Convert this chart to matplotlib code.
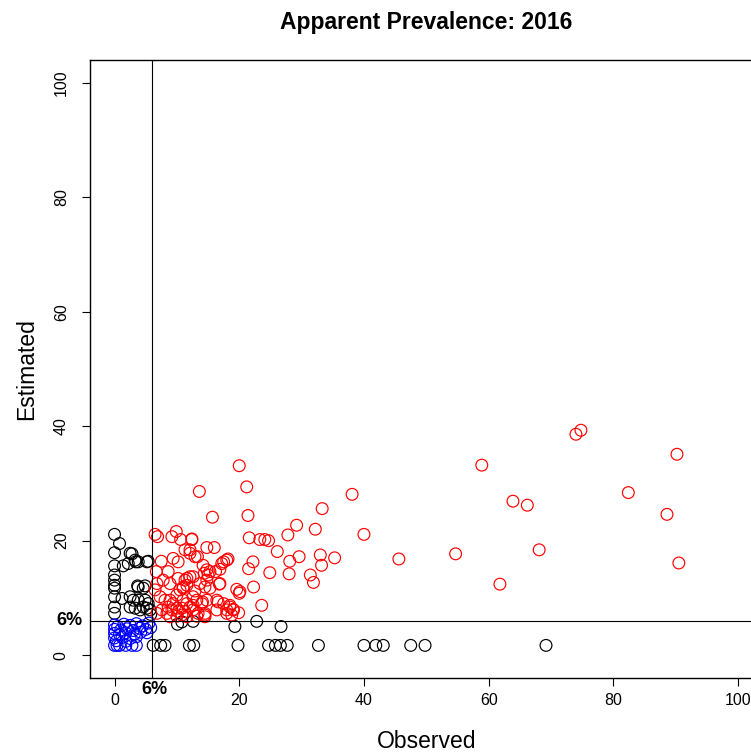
import matplotlib
matplotlib.use('Agg')
import matplotlib.pyplot as plt
import numpy as np

plt.rcParams['font.family'] = ['Liberation Sans', 'DejaVu Sans']

# Prevalence cut-off (%)
cutoff = 6

# Both observed and estimated above the cut-off
obs_red = [58.9, 74.0, 74.8, 90.2, 82.4, 63.9, 66.2, 88.6, 45.6, 54.7, 68.1, 90.5, 61.8,
           20.0, 21.2, 13.6, 38.1, 33.3, 15.7, 21.4, 29.2, 32.2, 40.0, 27.8, 21.6,
           23.3, 24.1, 24.7, 12.4, 14.8, 16.0, 26.1, 12.1, 12.9, 29.6, 33.0, 35.3,
           28.1, 18.2, 17.5, 22.2, 33.2, 14.2, 21.5, 16.2, 16.9, 24.9, 28.0, 14.4,
           15.0, 31.4, 31.9, 11.6, 12.1, 16.8, 13.7, 22.3, 19.6, 20.0, 11.0, 10.5,
           12.9, 16.6, 14.1, 18.5, 19.0, 19.9, 18.0, 23.6, 14.5, 12.6,
           6.5, 6.9, 9.9, 9.2, 10.6, 12.4, 12.1, 11.3, 13.3, 7.5, 9.4, 10.2,
           14.8, 15.3, 17.2, 18.0, 6.7, 8.6, 7.8, 8.9, 10.2, 11.3, 11.6, 11.0,
           10.0, 12.6, 14.8, 14.5, 15.3, 16.9, 20.1, 6.8, 6.5, 7.3, 8.1, 8.9,
           9.4, 8.6, 9.2, 10.0, 8.4, 11.0, 11.6, 12.1, 12.6, 13.2, 14.0, 14.8,
           10.8, 10.2, 11.3, 10.8, 12.6, 13.4, 14.5, 16.4, 17.5, 18.5, 19.1,
           16.4, 18.0, 18.8, 7.6, 6.8, 8.9, 10.0, 11.6, 13.2, 14.5]
est_red = [33.2, 38.6, 39.3, 35.1, 28.4, 26.9, 26.2, 24.6, 16.8, 17.7, 18.4, 16.1, 12.4,
           33.1, 29.4, 28.6, 28.1, 25.6, 24.1, 24.4, 22.7, 22.0, 21.1, 21.0, 20.5,
           20.2, 20.2, 20.0, 20.3, 18.8, 18.8, 18.1, 17.8, 17.2, 17.2, 17.5, 17.0,
           16.4, 16.8, 16.3, 16.3, 15.7, 15.7, 15.1, 14.6, 15.0, 14.4, 14.2, 14.3,
           14.0, 14.0, 12.7, 13.4, 13.7, 12.4, 12.5, 11.9, 11.5, 10.8, 11.9, 11.4,
           11.2, 9.3, 9.3, 8.7, 8.0, 7.4, 7.9, 8.7, 7.3, 8.7,
           21.1, 20.7, 21.6, 20.7, 20.2, 20.2, 18.4, 18.4, 17.2, 16.4, 16.9, 16.3,
           14.9, 14.6, 16.0, 16.6, 14.6, 14.6, 13.1, 12.5, 13.4, 13.1, 12.2, 11.7,
           10.5, 13.7, 13.1, 11.9, 11.7, 12.5, 11.1, 12.5, 11.4, 10.2, 9.6, 9.6,
           9.0, 8.4, 7.9, 8.2, 7.3, 9.6, 9.0, 8.4, 10.2, 9.6, 9.0, 9.6,
           8.2, 7.6, 7.6, 7.0, 7.9, 7.3, 7.0, 9.6, 9.0, 8.4, 7.9,
           7.9, 7.3, 7.0, 7.9, 7.3, 6.7, 6.8, 6.7, 6.8, 6.7]

# Only one of the two above the cut-off
obs_black = [0.0, 0.8, 0.0, 2.8, 3.4, 5.4, 0.0, 1.4, 0.0, 0.0, 3.7, 4.9, 0.0, 1.2,
             2.5, 3.0, 3.8, 4.9, 5.4, 2.5, 3.3, 4.1, 0.0, 4.6, 5.2, 5.7, 0.0, 5.8,
             2.5, 3.3, 2.2, 3.8, 5.2, 3.8, 4.6, 0.0, 0.0,
             10.1, 19.3, 22.8, 12.6, 10.8, 26.7,
             6.2, 7.4, 8.1, 12.0, 12.7, 19.8, 24.7, 25.8, 26.6, 27.7, 32.7,
             40.0, 41.9, 43.1, 47.5, 49.8, 69.2]
est_black = [21.1, 19.5, 17.9, 17.7, 16.3, 16.4, 15.6, 15.6, 14.0, 12.2, 12.1, 12.1,
             10.2, 9.9, 10.2, 9.6, 9.6, 9.6, 9.0, 8.4, 8.2, 7.9, 8.4, 8.4, 8.2, 7.9,
             7.3, 7.1, 17.8, 16.6, 16.0, 16.3, 16.3, 11.9, 11.7, 11.7, 13.1,
             5.4, 5.0, 5.9, 5.9, 5.8, 5.0,
             1.7, 1.7, 1.7, 1.7, 1.7, 1.7, 1.7, 1.7, 1.7, 1.7, 1.7,
             1.7, 1.7, 1.7, 1.7, 1.7, 1.7]

# Both below the cut-off
obs_blue = [0.0, 0.5, 1.5, 2.5, 3.5, 4.5, 5.5,
            0.0, 1.0, 2.0, 3.0, 4.0, 5.0, 5.8,
            0.0, 0.8, 1.8, 3.2, 4.2, 5.2,
            0.0, 1.2, 2.5, 3.5, 0.3, 1.8,
            0.0, 0.8, 1.8, 2.8, 3.5, 0.4]
est_blue = [5.3, 5.0, 5.4, 5.2, 5.5, 5.1, 5.6,
            4.5, 4.4, 4.6, 4.3, 4.7, 4.5, 4.8,
            3.8, 3.6, 3.9, 3.7, 4.0, 3.9,
            3.0, 3.1, 2.9, 3.2, 2.5, 2.4,
            1.7, 1.7, 1.7, 1.7, 1.7, 1.7]

fig = plt.figure(figsize=(7.51, 7.54), dpi=100)
# plot region runs past the right edge of the canvas
ax = fig.add_axes([0.1193, 0.1008, 0.8967, 0.8196])

marker_kw = dict(s=72, facecolors='none', linewidths=0.85)
ax.scatter(obs_black, est_black, edgecolors='black', **marker_kw)
ax.scatter(obs_red, est_red, edgecolors='#ff0000', **marker_kw)
ax.scatter(obs_blue, est_blue, edgecolors='#0000ff', **marker_kw)

ax.axvline(cutoff, color='black', linewidth=0.8)
ax.axhline(cutoff, color='black', linewidth=0.8)

ax.set_xlim(-4, 104)
ax.set_ylim(-4, 104)
ticks = [0, 20, 40, 60, 80, 100]
ax.set_xticks(ticks)
ax.set_yticks(ticks)
ax.tick_params(axis='both', length=6, width=0.8, labelsize=11.5)
ax.tick_params(axis='x', pad=5)
ax.tick_params(axis='y', pad=9)
for lbl in ax.get_yticklabels():
    lbl.set_rotation(90)
    lbl.set_va('center')
for sp in ax.spines.values():
    sp.set_linewidth(1.0)

ax.annotate('6%', xy=(0, cutoff), xycoords=('axes fraction', 'data'),
            xytext=(-14.5, 0), textcoords='offset points', ha='center', va='center',
            fontsize=13, fontweight='bold', annotation_clip=False)
ax.annotate('6%', xy=(cutoff, 0), xycoords=('data', 'axes fraction'),
            xytext=(2, -8.5), textcoords='offset points', ha='center', va='center',
            fontsize=13, fontweight='bold', annotation_clip=False)

ax.set_title('Apparent Prevalence: 2016', fontsize=16.5, fontweight='bold', pad=22)
ax.set_xlabel('Observed', fontsize=16.5, labelpad=16)
ax.set_ylabel('Estimated', fontsize=16.5, labelpad=11)

plt.savefig('out.png', dpi=100)
